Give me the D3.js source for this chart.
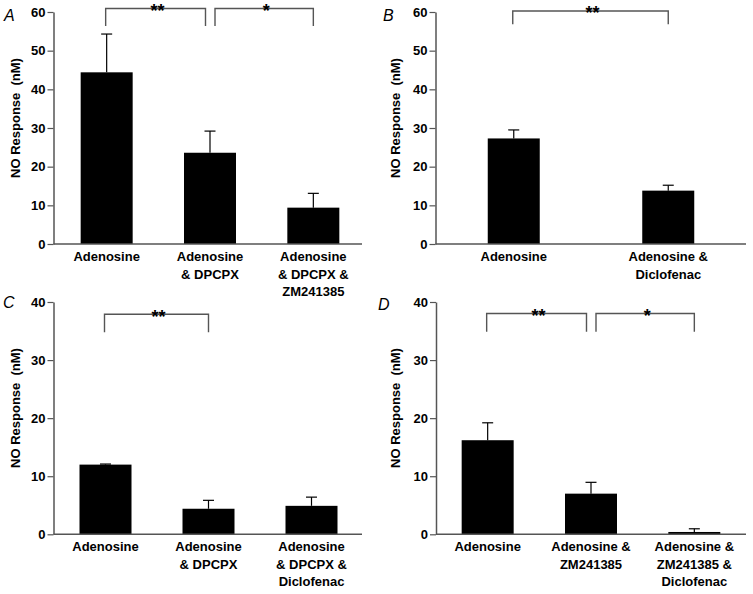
<!DOCTYPE html>
<html>
<head>
<meta charset="utf-8">
<script src="https://cdn.jsdelivr.net/npm/d3@7"></script>
<style>
  html, body { margin: 0; padding: 0; background: #fff; }
  svg { display: block; }
  text { font-family: "Liberation Sans", Arial, Helvetica, sans-serif; }
</style>
</head>
<body>
<svg id="chart" width="753" height="594"></svg>
<script>
// ---------- data ----------
const catsA = ["Adenosine", "Adenosine\n& DPCPX", "Adenosine\n& DPCPX &\nZM241385"];
const meanA = [44.4, 23.6, 9.4];
const semA  = [9.9, 5.6, 3.7];
const sigA  = [[0, 1, "**"], [1, 2, "*"]];

const catsB = ["Adenosine", "Adenosine &\nDiclofenac"];
const meanB = [27.3, 13.8];
const semB  = [2.2, 1.4];
const sigB  = [[0, 1, "**"]];

const catsC = ["Adenosine", "Adenosine\n& DPCPX", "Adenosine\n& DPCPX &\nDiclofenac"];
const meanC = [12.0, 4.4, 4.9];
const semC  = [0.1, 1.45, 1.5];
const sigC  = [[0, 1, "**"]];

const catsD = ["Adenosine", "Adenosine &\nZM241385", "Adenosine &\nZM241385 &\nDiclofenac"];
const meanD = [16.2, 7.0, 0.4];
const semD  = [3.0, 1.95, 0.55];
const sigD  = [[0, 1, "**"], [1, 2, "*"]];

const ticks60 = [0, 10, 20, 30, 40, 50, 60];
const ticks40 = [0, 10, 20, 30, 40];
const yLabel = "NO Response\u00a0\u00a0(nM)";

// ---------- layout ----------
const panels = [
  { letter: "A", cats: catsA, mean: meanA, sem: semA, sig: sigA, ticks: ticks60, yMax: 60,
    axisX: 53.5, xRange: [55, 365], xEnd: 362, yRange: [244, 12],
    letterPos: [4, 21], yLabelPos: [20, 118], bracketTop: 8.5, bracketDrop: 17.5 },
  { letter: "B", cats: catsB, mean: meanB, sem: semB, sig: sigB, ticks: ticks60, yMax: 60,
    axisX: 435.5, xRange: [436.5, 745.5], xEnd: 746, yRange: [244, 12],
    letterPos: [383, 21], yLabelPos: [400, 118], bracketTop: 11, bracketDrop: 13.3 },
  { letter: "C", cats: catsC, mean: meanC, sem: semC, sig: sigC, ticks: ticks40, yMax: 40,
    axisX: 53.5, xRange: [54, 363], xEnd: 362, yRange: [534.3, 302],
    letterPos: [3, 308], yLabelPos: [20, 408], bracketTop: 314.3, bracketDrop: 18 },
  { letter: "D", cats: catsD, mean: meanD, sem: semD, sig: sigD, ticks: ticks40, yMax: 40,
    axisX: 436, xRange: [436, 746], xEnd: 746, yRange: [534.3, 302],
    letterPos: [378, 310], yLabelPos: [400, 408], bracketTop: 313.5, bracketDrop: 18.2 }
];

const svg = d3.select("#chart");
const axisColor = "#555";
const barWidth = 52;
const capHalf = 5.5;

panels.forEach(p => {
  const g = svg.append("g");
  const x = d3.scalePoint().domain(d3.range(p.cats.length)).range(p.xRange).padding(0.5);
  const y = d3.scaleLinear().domain([0, p.yMax]).range(p.yRange);

  // bars
  g.selectAll("rect.bar").data(p.mean).enter().append("rect")
    .attr("x", (d, i) => x(i) - barWidth / 2)
    .attr("width", barWidth)
    .attr("y", d => y(d))
    .attr("height", d => y(0) - y(d))
    .attr("fill", "#000");

  // error bars (upper)
  p.mean.forEach((m, i) => {
    const top = y(m + p.sem[i]);
    g.append("line").attr("x1", x(i)).attr("x2", x(i))
      .attr("y1", y(m)).attr("y2", top)
      .attr("stroke", "#000").attr("stroke-width", 1.2);
    g.append("line").attr("x1", x(i) - capHalf).attr("x2", x(i) + capHalf)
      .attr("y1", top).attr("y2", top)
      .attr("stroke", "#000").attr("stroke-width", 1.2);
  });

  // y axis
  const ax = g.append("g").attr("transform", `translate(${p.axisX},0)`)
    .call(d3.axisLeft(y).tickValues(p.ticks).tickSize(6).tickSizeOuter(0).tickPadding(2));
  ax.select(".domain").attr("stroke", axisColor).attr("stroke-width", 1.5);
  ax.selectAll(".tick line").attr("stroke", axisColor).attr("stroke-width", 1.2);
  ax.selectAll(".tick text").attr("fill", "#000").attr("font-size", 13)
    .attr("font-weight", "bold").attr("font-family", "'Liberation Sans', Arial, sans-serif");

  // x axis baseline
  g.append("line").attr("x1", p.axisX).attr("x2", p.xEnd)
    .attr("y1", y(0)).attr("y2", y(0))
    .attr("stroke", axisColor).attr("stroke-width", 1.5);

  // category labels
  p.cats.forEach((c, i) => {
    const t = g.append("text").attr("text-anchor", "middle")
      .attr("font-size", 13).attr("font-weight", "bold").attr("fill", "#000");
    c.split("\n").forEach((ln, k) => {
      t.append("tspan").attr("x", x(i)).attr("y", y(0) + 17 + k * 17.5).text(ln);
    });
  });

  // y label
  g.append("text")
    .attr("transform", `translate(${p.yLabelPos[0]},${p.yLabelPos[1]}) rotate(-90)`)
    .attr("text-anchor", "middle").attr("font-size", 13).attr("font-weight", "bold")
    .attr("fill", "#000").text(yLabel);

  // panel letter
  g.append("text").attr("x", p.letterPos[0]).attr("y", p.letterPos[1])
    .attr("font-size", 16).attr("font-style", "italic").attr("fill", "#000").text(p.letter);

  // significance brackets
  const starts = p.sig.map(s => s[0]);
  const ends = p.sig.map(s => s[1]);
  p.sig.forEach(([a, b, lab]) => {
    const xa = x(a) - 1 + (ends.includes(a) ? 6 : 0);
    const xb = x(b) - (starts.includes(b) ? 4.5 : 0);
    const yt = p.bracketTop, yb = p.bracketTop + p.bracketDrop;
    g.append("path")
      .attr("d", `M${xa},${yb}V${yt}H${xb}V${yb}`)
      .attr("fill", "none").attr("stroke", axisColor).attr("stroke-width", 1.4);
    g.append("text").attr("x", (xa + xb) / 2 + 2).attr("y", yt + 8.2)
      .attr("text-anchor", "middle").attr("font-size", 18).attr("font-weight", "bold")
      .attr("fill", "#000").text(lab);
  });
});
</script>
</body>
</html>
